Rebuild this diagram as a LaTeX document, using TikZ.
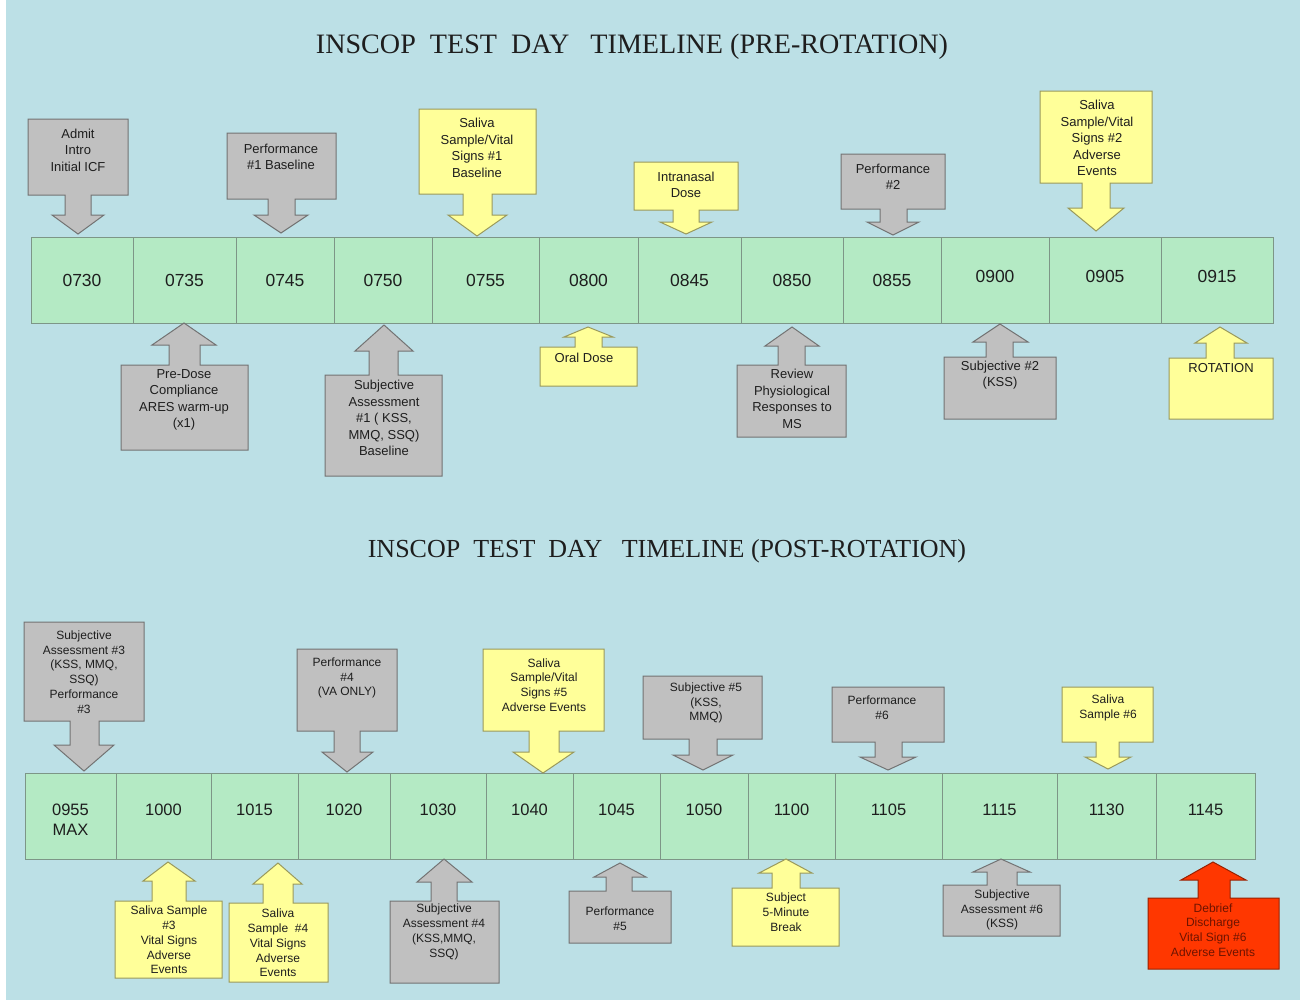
\documentclass[tikz,border=0pt]{standalone}
\usepackage{fontspec}
\setmainfont{Liberation Sans}
\newfontfamily\titlefont{Liberation Serif}
\definecolor{bgc}{RGB}{188,224,230}
\definecolor{cellc}{RGB}{180,234,196}
\definecolor{celld}{RGB}{125,150,135}
\definecolor{cgray}{RGB}{192,192,192}
\definecolor{cyel}{RGB}{255,255,153}
\definecolor{cred}{RGB}{255,55,0}
\definecolor{textc}{RGB}{30,30,30}
\definecolor{redtext}{RGB}{110,20,0}
\tikzset{
  cellbox/.style={fill=cellc, draw=celld, line width=1pt},
  numtop/.style={font=\fontsize{17.5}{20}\selectfont, text=textc, inner sep=0pt},
  numbot/.style={font=\fontsize{16.5}{20}\selectfont, text=textc, inner sep=0pt, align=center},
  ctop/.style={font=\fontsize{13}{16.5}\selectfont, align=center, text=textc, inner sep=0pt},
  cbot/.style={font=\fontsize{12}{14.8}\selectfont, align=center, text=textc, inner sep=0pt},
  ttl/.style={text=textc, inner sep=0pt},
}
\begin{document}
\begin{tikzpicture}[x=1pt,y=-1pt]
\useasboundingbox (0,0) rectangle (1303,1002);
\fill[white] (0,0) rectangle (1303,1002);
\fill[bgc] (6,0) rectangle (1300,1000);

% titles
\node[ttl, font=\titlefont\fontsize{28.1}{32}\selectfont] (title1) at (632,47) {INSCOP\ \ TEST\ \ DAY\ \ \ TIMELINE (PRE-ROTATION)};
\node[ttl, font=\titlefont\fontsize{26}{30}\selectfont] (title2) at (667,551) {INSCOP\ \ TEST\ \ DAY\ \ \ TIMELINE (POST-ROTATION)};

% top timeline
\foreach \a/\b/\t/\y [count=\i] in {31/133/0730/280, 133/236/0735/280, 236/334/0745/280, 334/432/0750/280, 432/539/0755/280, 539/638/0800/280, 638/741/0845/280, 741/843/0850/280, 843/941/0855/280, 941/1049/0900/276, 1049/1161/0905/276, 1161/1273/0915/276}{
  \draw[cellbox] (\a,237) rectangle (\b,323);
  \node[numtop] (t\i) at ({(\a+\b)/2},\y) {\t};
}
% bottom timeline
\draw[cellbox] (25,773) rectangle (116,859);
\node[numbot] (u0) at (70.5,820) {0955\\MAX};
\foreach \a/\b/\t [count=\i] in {116/211/1000, 211/298/1015, 298/390/1020, 390/486/1030, 486/573/1040, 573/660/1045, 660/748/1050, 748/835/1100, 835/942/1105, 942/1057/1115, 1057/1156/1130, 1156/1255/1145}{
  \draw[cellbox] (\a,773) rectangle (\b,859);
  \node[numbot] (u\i) at ({(\a+\b)/2},810) {\t};
}

% top down callouts
\foreach \xa/\ya/\xb/\yb/\sa/\sb/\ha/\hb/\hy/\tx/\ty/\fc/\cx/\cy/\t [count=\i] in {
 28/119/128/195/65/91/52/104/215/78/234/cgray/78/150/{Admit\\Intro\\Initial ICF},
 227/133/336/199/268/295/254/308/215/281/233/cgray/281/157/{Performance\\\#1 Baseline},
 419/109/536/194/463/492/448/507/215/477/236/cyel/477/148/{Saliva\\Sample/Vital\\Signs \#1\\Baseline},
 634/162/738/210/673/699/660/712/222/686/234/cyel/686/185/{Intranasal\\Dose},
 841/154/945/209/880/907/867/919/222/893/235/cgray/893/177/{Performance\\\#2},
 1040/91/1152/183/1082/1110/1068/1124/208/1096/231/cyel/1097/138/{Saliva\\Sample/Vital\\Signs \#2\\Adverse\\Events}}{
  \draw[fill=\fc, draw=\fc!60!black, line width=1pt] (\xa,\ya) -- (\xb,\ya) -- (\xb,\yb) -- (\sb,\yb) -- (\sb,\hy) -- (\hb,\hy) -- (\tx,\ty) -- (\ha,\hy) -- (\sa,\hy) -- (\sa,\yb) -- (\xa,\yb) -- cycle;
  \node[ctop] (a\i) at (\cx,\cy) {\t};
}
% top up callouts
\foreach \xa/\ya/\xb/\yb/\sa/\sb/\ha/\hb/\hy/\tx/\ty/\fc/\cx/\cy/\t [count=\i] in {
 121/365/248/450/169/200/152/216/345/184/323/cgray/184/400/{Pre-Dose\\Compliance\\ARES warm-up\\(x1)},
 325/375/442/476/369/398/355/413/351/384/325/cgray/384/418/{Subjective\\Assessment\\\#1 ( KSS,\\MMQ, SSQ)\\Baseline},
 540/347/637/386/575/602/564/613/337/588/327/cyel/584/358/{Oral Dose},
 737/365/846/437/778/805/765/819/346/792/327/cgray/792/399/{Review\\Physiological\\Responses to\\MS},
 944/357/1056/419/986/1013/973/1028/342/1000/324/cgray/1000/375/{Subjective \#2\\(KSS)},
 1169/358/1273/419/1206/1234/1195/1247/343/1220/327/cyel/1221/368/{ROTATION}}{
  \draw[fill=\fc, draw=\fc!60!black, line width=1pt] (\xa,\ya) -- (\sa,\ya) -- (\sa,\hy) -- (\ha,\hy) -- (\tx,\ty) -- (\hb,\hy) -- (\sb,\hy) -- (\sb,\ya) -- (\xb,\ya) -- (\xb,\yb) -- (\xa,\yb) -- cycle;
  \node[ctop] (b\i) at (\cx,\cy) {\t};
}
% bottom down callouts
\foreach \xa/\ya/\xb/\yb/\sa/\sb/\ha/\hb/\hy/\tx/\ty/\fc/\cx/\cy/\t [count=\i] in {
 24/622/144/721/70/99/54/114/745/84/771/cgray/84/672/{Subjective\\Assessment \#3\\(KSS, MMQ,\\SSQ)\\Performance\\\#3},
 297/649/397/731/334/360/322/373/752/347/772/cgray/347/678/{Performance\\\#4\\(VA ONLY)},
 483/649/604/731/529/559/513/574/752/543/773/cyel/544/685/{Saliva\\Sample/Vital\\Signs \#5\\Adverse Events},
 643/676/762/739/689/717/673/733/755/703/770/cgray/706/703/{Subjective \#5\\(KSS,\\MMQ)},
 832/687/944/742/875/902/860/916/757/888/770/cgray/882/708/{Performance\\\#6},
 1062/687/1153/742/1096/1119/1085/1131/757/1108/769/cyel/1108/708/{Saliva\\Sample \#6}}{
  \draw[fill=\fc, draw=\fc!60!black, line width=1pt] (\xa,\ya) -- (\xb,\ya) -- (\xb,\yb) -- (\sb,\yb) -- (\sb,\hy) -- (\hb,\hy) -- (\tx,\ty) -- (\ha,\hy) -- (\sa,\hy) -- (\sa,\yb) -- (\xa,\yb) -- cycle;
  \node[cbot] (d\i) at (\cx,\cy) {\t};
}
% bottom up callouts
\foreach \xa/\ya/\xb/\yb/\sa/\sb/\ha/\hb/\hy/\tx/\ty/\fc/\cx/\cy/\t [count=\i] in {
 115/901/222/978/152/186/143/195/881/168/862/cyel/169/940/{Saliva Sample\\\#3\\Vital Signs\\Adverse\\Events},
 229/903/328/982/263/293/253/302/884/278/863/cyel/278/943/{Saliva\\Sample\ \ \#4\\Vital Signs\\Adverse\\Events},
 390/901/499/983/431/457/417/472/882/444/859/cgray/444/932/{Subjective\\Assessment \#4\\(KSS,MMQ,\\SSQ)},
 569/891/671/943/606/632/594/646/877/620/863/cgray/620/919/{Performance\\\#5},
 732/888/839/946/772/800/759/812/873/786/859/cyel/786/912/{Subject\\5-Minute\\Break},
 943/885/1060/936/987/1017/973/1030/872/1001/859/cgray/1002/910/{Subjective\\Assessment \#6\\(KSS)},
 1148/898/1279/969/1198/1230/1181/1246/880/1213/862/cred/1213/930/{\color{redtext}Debrief\\\color{redtext}Discharge\\\color{redtext}Vital Sign \#6\\\color{redtext}Adverse Events}}{
  \draw[fill=\fc, draw=\fc!60!black, line width=1pt] (\xa,\ya) -- (\sa,\ya) -- (\sa,\hy) -- (\ha,\hy) -- (\tx,\ty) -- (\hb,\hy) -- (\sb,\hy) -- (\sb,\ya) -- (\xb,\ya) -- (\xb,\yb) -- (\xa,\yb) -- cycle;
  \node[cbot] (e\i) at (\cx,\cy) {\t};
}
\end{tikzpicture}
\end{document}
